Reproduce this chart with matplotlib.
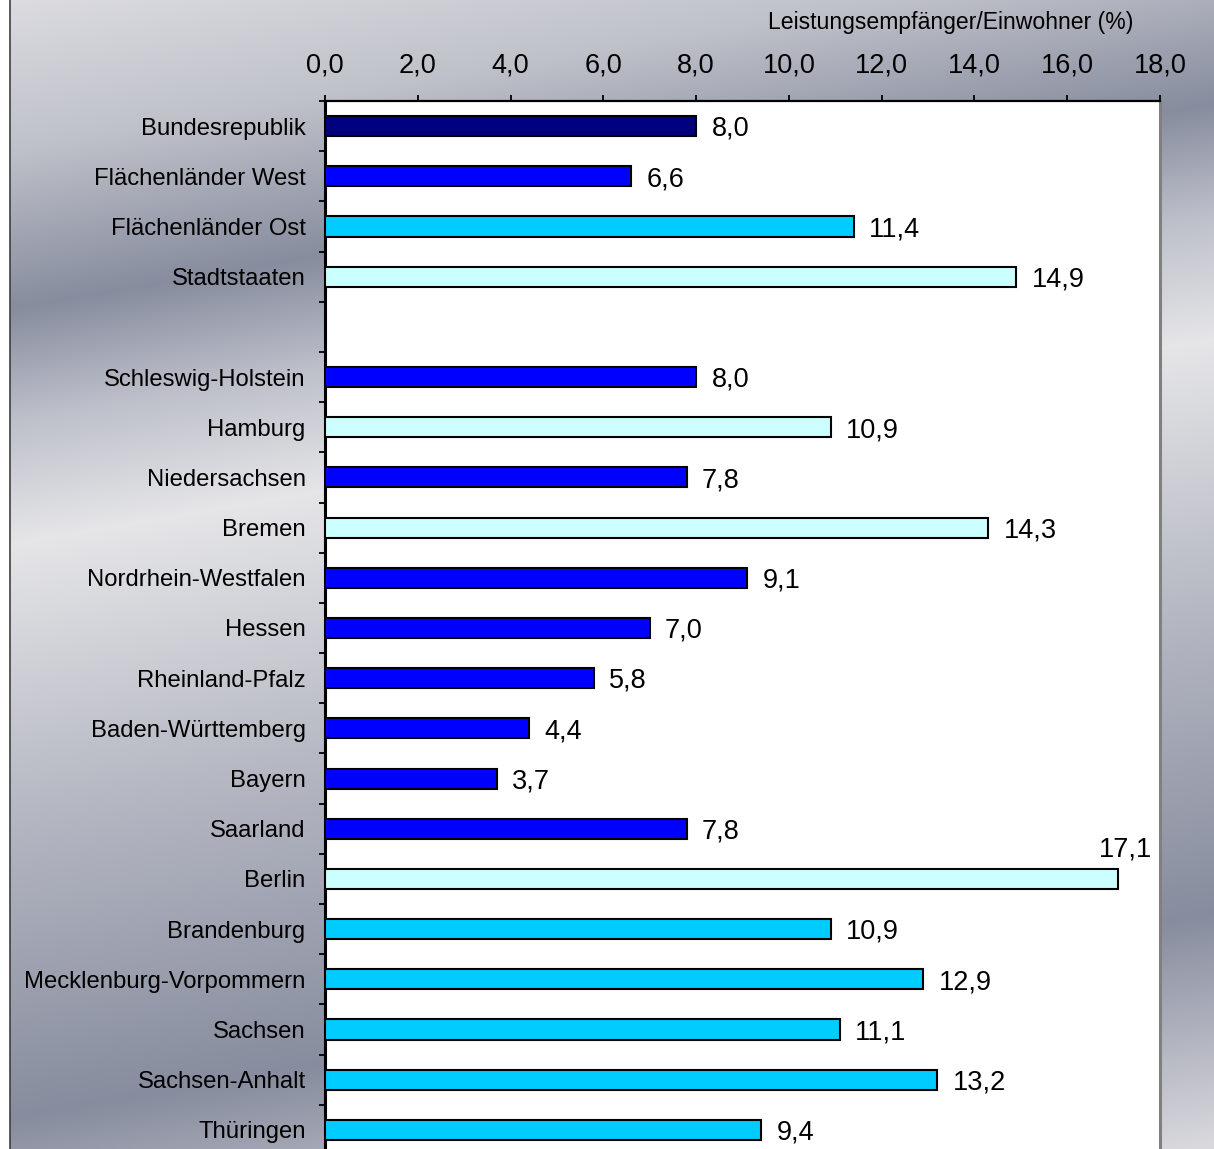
import numpy as np
import matplotlib
matplotlib.use('Agg')
import matplotlib.pyplot as plt
from matplotlib.lines import Line2D

plt.rcParams['font.family'] = ['Liberation Sans', 'DejaVu Sans']

labels = ['Bundesrepublik', 'Flächenländer West', 'Flächenländer Ost', 'Stadtstaaten', '',
          'Schleswig-Holstein', 'Hamburg', 'Niedersachsen', 'Bremen', 'Nordrhein-Westfalen',
          'Hessen', 'Rheinland-Pfalz', 'Baden-Württemberg', 'Bayern', 'Saarland', 'Berlin',
          'Brandenburg', 'Mecklenburg-Vorpommern', 'Sachsen', 'Sachsen-Anhalt', 'Thüringen']
values = [8.0, 6.6, 11.4, 14.9, None,
          8.0, 10.9, 7.8, 14.3, 9.1,
          7.0, 5.8, 4.4, 3.7, 7.8, 17.1,
          10.9, 12.9, 11.1, 13.2, 9.4]
groups = ['bund', 'west', 'ost', 'stadt', None,
          'west', 'stadt', 'west', 'stadt', 'west',
          'west', 'west', 'west', 'west', 'west', 'stadt',
          'ost', 'ost', 'ost', 'ost', 'ost']
xticks = [0, 2, 4, 6, 8, 10, 12, 14, 16, 18]
xtitle = 'Leistungsempfänger/Einwohner (%)'

colors = {'bund': '#000080', 'west': '#0000FF', 'ost': '#00CCFF', 'stadt': '#CCFFFF'}

W, H = 1214, 1149
fig = plt.figure(figsize=(W / 100, H / 100), dpi=100)
fig.patch.set_facecolor('white')

# metallic background
bg = fig.add_axes([10 / W, 0, 1 - 10 / W, 1])
xx, yy = np.meshgrid(np.arange(W - 10) + 10, np.arange(H))
u = yy + 0.17 * xx
stops = [0, 150, 310, 420, 545, 800, 1120, 1350]
r = [0.86, 0.75, 0.53, 0.74, 0.90, 0.72, 0.53, 0.85]
g = [0.86, 0.76, 0.55, 0.75, 0.90, 0.73, 0.55, 0.85]
b = [0.88, 0.79, 0.62, 0.79, 0.91, 0.77, 0.62, 0.87]
img = np.dstack([np.interp(u, stops, r), np.interp(u, stops, g), np.interp(u, stops, b)])
bg.imshow(img, aspect='auto', interpolation='bilinear')
bg.axis('off')
fig.add_artist(Line2D([9.5 / W, 9.5 / W], [0, 1], color='#404040', lw=1.2))

ax = fig.add_axes([325 / W, 1 - 1155 / H, 835 / W, 1054 / H])
ax.set_facecolor('white')

n = len(labels)
pos = np.arange(n)
for i in range(n):
    if values[i] is None:
        continue
    ax.barh(pos[i], values[i], height=0.4, color=colors[groups[i]],
            edgecolor='black', linewidth=1.5, zorder=3)
    txt = f'{values[i]:.1f}'.replace('.', ',')
    if values[i] > 16.5:
        ax.annotate(txt, (values[i], pos[i]), xytext=(5, 21), textcoords='offset points',
                    ha='center', va='center', fontsize=19.5)
    else:
        ax.annotate(txt, (values[i], pos[i]), xytext=(11, -2), textcoords='offset points',
                    ha='left', va='center', fontsize=19.5)

ax.set_xlim(0, 18)
ax.set_ylim(n - 0.5, -0.5)
ax.xaxis.tick_top()
ax.set_xticks(xticks)
ax.set_xticklabels([f'{t:.1f}'.replace('.', ',') for t in xticks], fontsize=19.5)
ax.tick_params(axis='x', direction='out', length=4.5, width=1.3, pad=11.5)

ax.set_yticks(pos)
ax.set_yticklabels(labels, fontsize=17.2)
ax.set_yticks(np.arange(n + 1) - 0.5, minor=True)
ax.tick_params(axis='y', which='major', length=0, pad=14)
ax.tick_params(axis='y', which='minor', direction='out', length=4.5, width=1.3)

ax.spines['left'].set_linewidth(2.2)
ax.spines['top'].set_linewidth(1.6)
ax.spines['right'].set_color('#808080')
ax.spines['right'].set_linewidth(2.2)
ax.spines['bottom'].set_visible(False)

fig.text(951 / W, 1 - 22 / H, xtitle, ha='center', va='center', fontsize=16.6)

fig.savefig('out.png', dpi=100)
